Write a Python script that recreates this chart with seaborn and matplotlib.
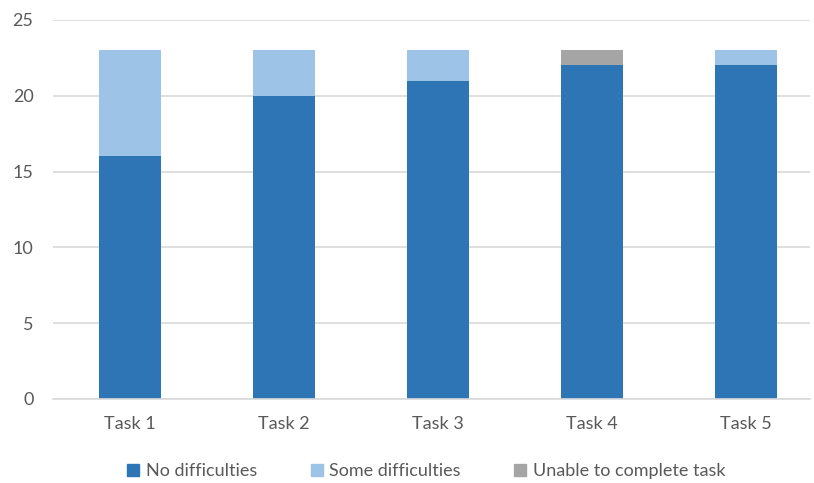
import matplotlib
matplotlib.use("Agg")
import matplotlib.pyplot as plt
from matplotlib.lines import Line2D
import numpy as np
import pandas as pd
import seaborn as sns

tasks = ["Task 1", "Task 2", "Task 3", "Task 4", "Task 5"]
no_difficulties = [16, 20, 21, 22, 22]
some_difficulties = [7, 3, 2, 0, 1]
unable = [0, 0, 0, 1, 0]

series_names = ["No difficulties", "Some difficulties", "Unable to complete task"]
colors = ["#2E75B6", "#9DC3E6", "#A5A5A5"]
text_color = "#595959"

sns.set_theme(style="white")
plt.rcParams["font.family"] = ["Lato", "DejaVu Sans"]

# cumulative tops for each stacked segment
tops = np.cumsum(np.array([no_difficulties, some_difficulties, unable]), axis=0)

fig = plt.figure(figsize=(8.14, 4.83), dpi=100)
ax = fig.add_axes([0.065, 0.174, 0.93, 0.7846])

# draw from the tallest cumulative layer down so each segment shows on top
for i in reversed(range(3)):
    df = pd.DataFrame({"task": tasks, "value": tops[i]})
    sns.barplot(data=df, x="task", y="value", color=colors[i], width=0.40,
                saturation=1, ax=ax, linewidth=0, zorder=2)

ax.set_ylim(0, 25)
ax.set_xlim(-0.5, 4.415)
ax.set_yticks([0, 5, 10, 15, 20, 25])
ax.yaxis.grid(True, color="#D9D9D9", linewidth=1.2, zorder=0)
ax.set_axisbelow(True)
for s in ["left", "right", "top"]:
    ax.spines[s].set_visible(False)
ax.spines["bottom"].set_color("#D9D9D9")
ax.spines["bottom"].set_linewidth(1.2)
ax.set_xlabel("")
ax.set_ylabel("")
ax.tick_params(axis="y", length=0, pad=14, labelsize=13, labelcolor=text_color)
ax.tick_params(axis="x", length=0, pad=12, labelsize=13, labelcolor=text_color)

handles = [Line2D([], [], marker="s", linestyle="", markersize=8,
                  markerfacecolor=c, markeredgecolor=c) for c in colors]
fig.legend(handles, series_names, loc="center", bbox_to_anchor=(0.523, 0.025),
           ncol=3, frameon=False, fontsize=13, labelcolor=text_color,
           handletextpad=0.3, columnspacing=2.9, handlelength=0.8)

fig.savefig("out.png", dpi=100)
